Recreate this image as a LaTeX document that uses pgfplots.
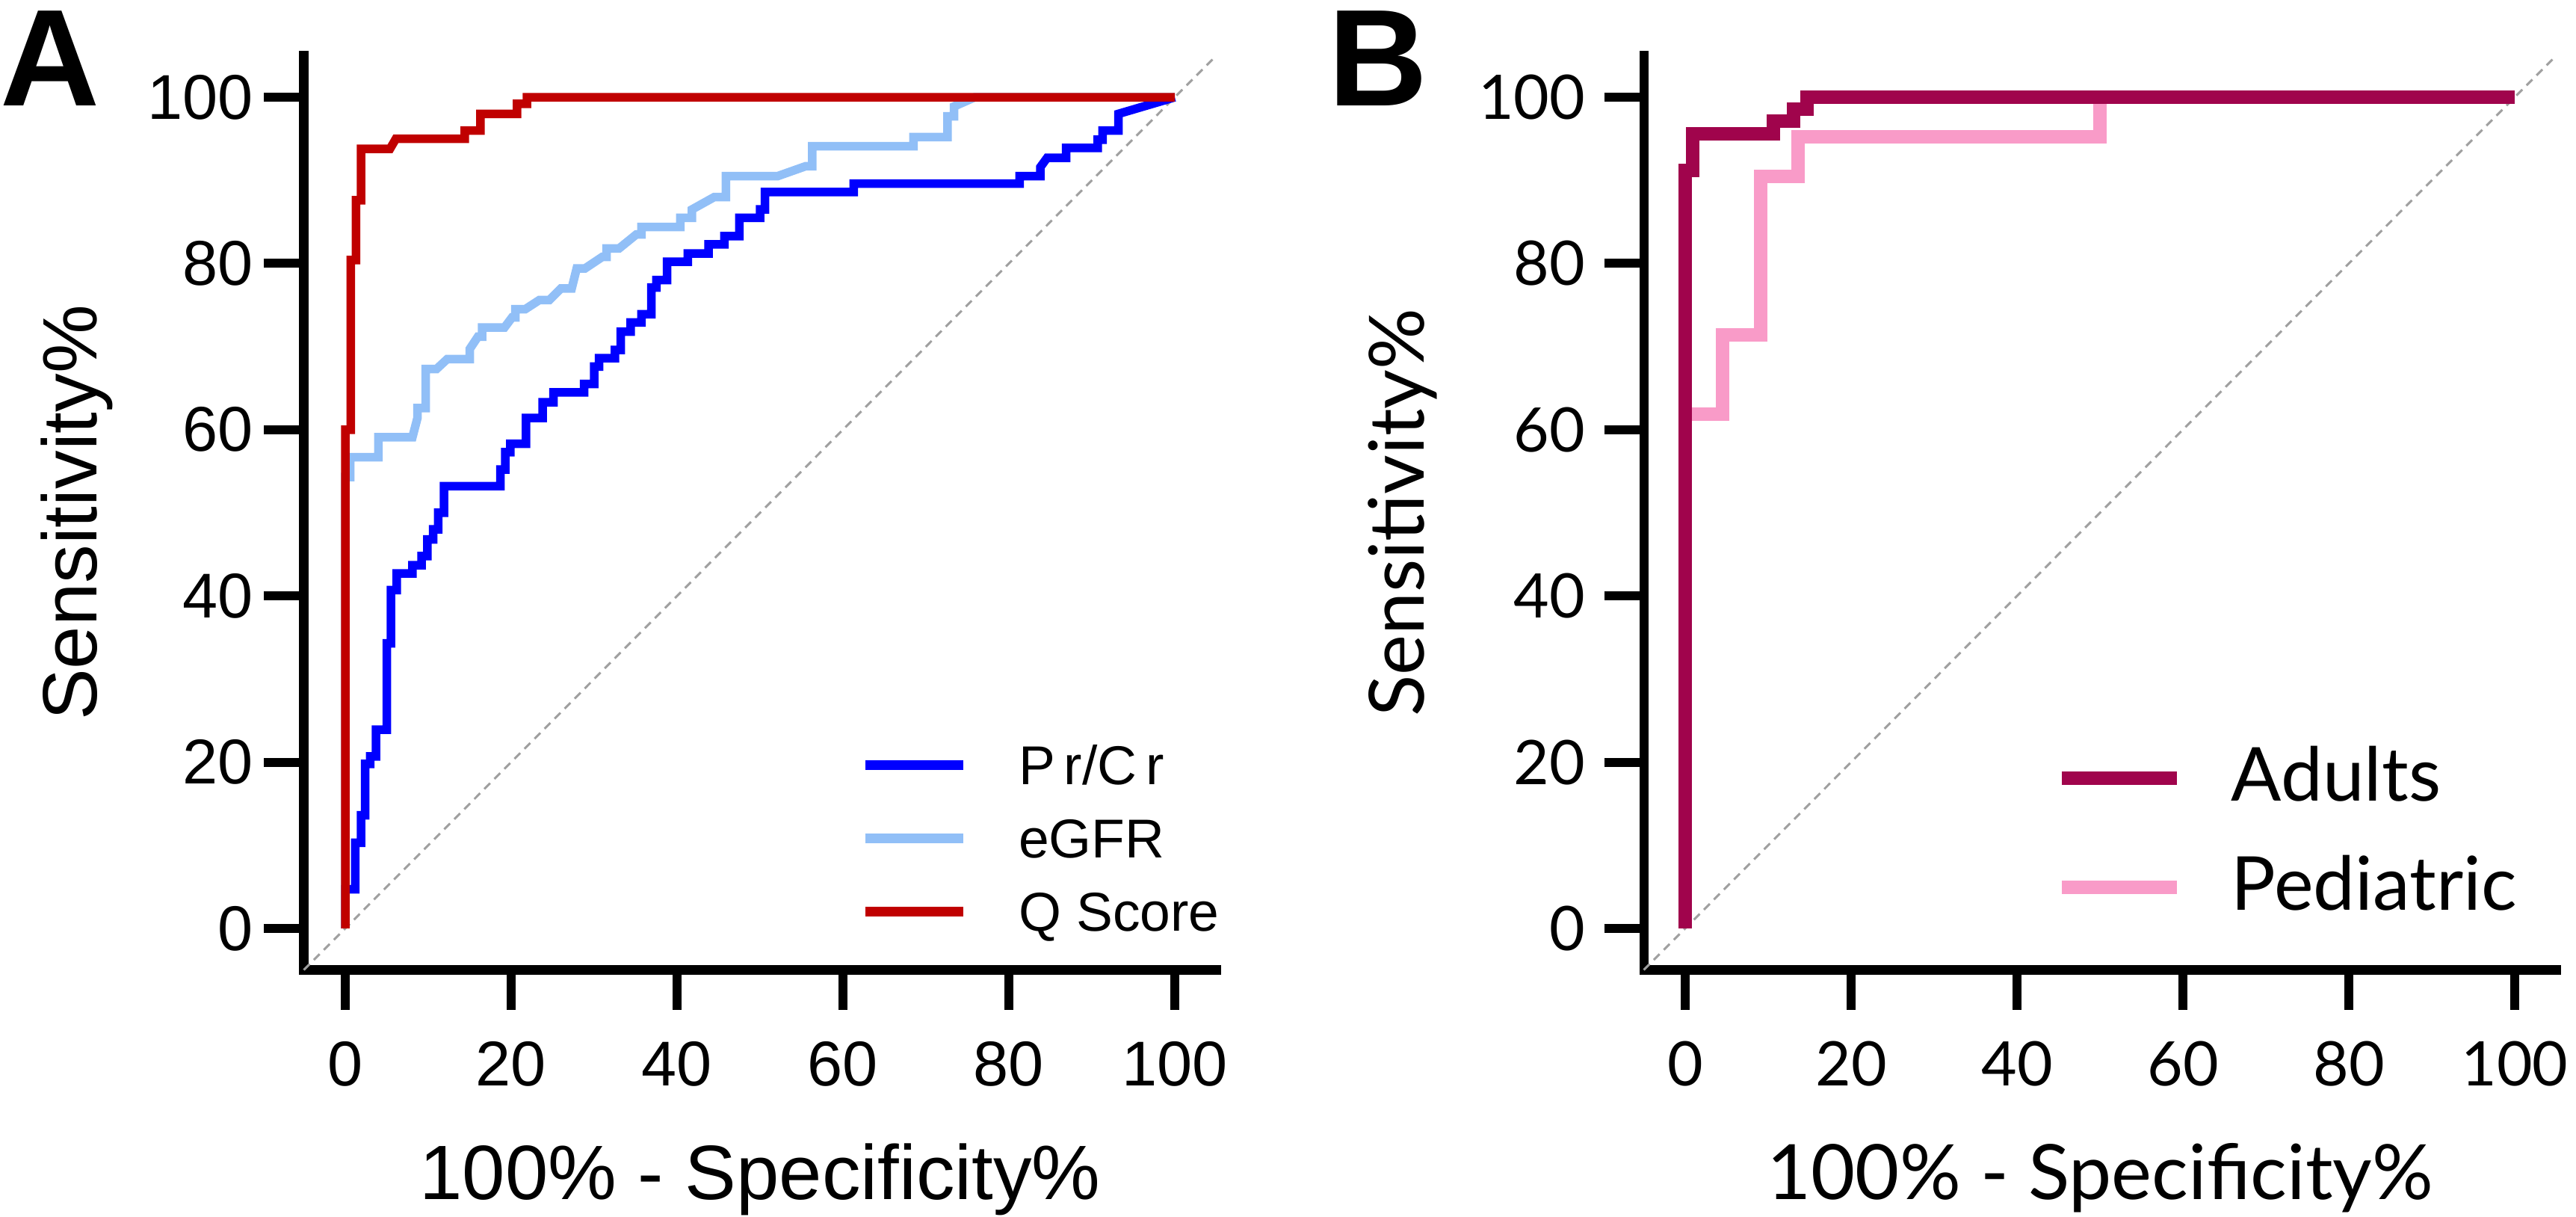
\documentclass[border=0pt]{standalone}
\usepackage{fontspec}
\setmainfont{Liberation Sans}
\newfontfamily\arialf{Liberation Sans}
\newfontfamily\latof{Lato}
\usepackage{pgfplots}
\pgfplotsset{compat=1.18}

\definecolor{prcr}{RGB}{0,0,255}
\definecolor{egfr}{RGB}{145,191,247}
\definecolor{qscore}{RGB}{192,0,0}
\definecolor{adults}{RGB}{160,4,76}
\definecolor{pedi}{RGB}{249,155,200}
\definecolor{diag}{RGB}{160,160,160}

\pgfplotsset{
  rocbase/.style={
    scale only axis, width=244.2bp, height=244.6bp,
    xmin=-5, xmax=105, ymin=-5, ymax=105,
    axis x line*=bottom, axis y line*=left,
    axis line style={line width=2.4bp, black, line cap=rect},
    tick align=outside, major tick length=10.6bp,
    tick style={line width=2.4bp, black},
    xtick={0,20,...,100}, ytick={0,20,...,100},
    /pgf/number format/assume math mode=true,
    xticklabel style={anchor=north, inner sep=0pt, yshift=-8.3bp},
    clip=false,
    legend cell align=left,
  },
  diagline/.style={diag, line width=0.6bp, dash pattern=on 2.2bp off 1.6bp, forget plot},
}

\begin{document}
\begin{tikzpicture}
\useasboundingbox (0,0) rectangle (689.4bp,325.6bp);

% panel A
\begin{axis}[rocbase, at={(81.3bp,66.1bp)}, anchor=south west,
  ticklabel style={font=\arialf\fontsize{17}{17}\selectfont},
  yticklabel style={anchor=east, inner sep=0pt, xshift=-2.7bp},
  xlabel={100\% - Specificity\%}, ylabel={Sensitivity\%},
  label style={font=\arialf\fontsize{20.7}{20.7}\selectfont, inner sep=0pt},
  xlabel style={at={(axis description cs:0.5,-0.2514)}, anchor=base},
  ylabel style={at={(axis description cs:-0.2265,0.5)}, anchor=base},
  legend style={draw=none, fill=none, inner sep=0pt, outer sep=0pt,
    at={(0.61,0.2455)}, anchor=north west,
    font=\arialf\fontsize{14.7}{14.7}\selectfont,
    row sep={19.6bp,between origins}, column sep={41.1bp,between origins},
    nodes={inner sep=0pt, outer sep=0pt, anchor=base west, text height=10.5bp, text depth=0pt}},
  legend image code/.code={\draw[#1, line width=2.5bp, line cap=butt] (0bp,5.3bp) -- (26.2bp,5.3bp);},
]
\addplot[diagline] coordinates {(-5,-5) (105,105)};

\addplot[prcr, line width=2.3bp, line join=miter] coordinates {
(0,0) (0,4.7) (1.2,4.7) (1.2,10.3) (1.9,10.3) (1.9,13.6) (2.4,13.6) (2.4,19.8)
(3.0,19.8) (3.0,20.7) (3.7,20.7) (3.7,23.9) (5.0,23.9) (5.0,34.3) (5.5,34.3)
(5.5,40.7) (6.2,40.7) (6.2,42.7) (8.1,42.7) (8.1,43.7) (9.2,43.7) (9.2,44.8)
(9.9,44.8) (9.9,46.8) (10.6,46.8) (10.6,48.0) (11.2,48.0) (11.2,50.0) (11.9,50.0)
(11.9,53.2) (18.7,53.2) (18.7,55.2) (19.3,55.2) (19.3,57.3) (19.9,57.3) (19.9,58.3)
(21.8,58.3) (21.8,61.4) (23.8,61.4) (23.8,63.3) (25.1,63.3) (25.1,64.5) (28.8,64.5)
(28.8,65.5) (30.0,65.5) (30.0,67.6) (30.6,67.6) (30.6,68.6) (32.5,68.6) (32.5,69.6)
(33.2,69.6) (33.2,71.8) (34.4,71.8) (34.4,72.9) (35.7,72.9) (35.7,73.9) (36.9,73.9)
(36.9,77.1) (37.5,77.1) (37.5,78.0) (38.8,78.0) (38.8,80.2) (41.3,80.2) (41.3,81.2)
(43.8,81.2) (43.8,82.3) (45.7,82.3) (45.7,83.3) (47.5,83.3) (47.5,85.5) (50.0,85.5)
(50.0,86.5) (50.6,86.5) (50.6,88.6) (61.3,88.6) (61.3,89.6) (81.3,89.6) (81.3,90.5)
(83.8,90.5) (83.8,91.6) (84.6,92.7) (86.9,92.7) (86.9,93.9) (90.7,93.9) (90.7,94.9)
(91.3,94.9) (91.3,96.0) (93.2,96.0) (93.2,98.0) (100,100)
};
\addlegendentry{P\kern2.4bp r/C\kern2.4bp r}

\addplot[egfr, line width=2.3bp, line join=miter] coordinates {
(0,0) (0,54.3) (0.6,54.3) (0.6,56.7) (4.0,56.7) (4.0,59.1) (8.1,59.1) (8.7,61.4)
(8.7,62.6) (9.7,62.6) (9.7,67.3) (11.0,67.3) (12.3,68.5) (15.0,68.5) (15.0,69.7)
(16.0,71.2) (16.5,71.2) (16.5,72.3) (19.2,72.3) (20.1,73.5) (20.5,73.5) (20.5,74.5)
(21.7,74.5) (23.4,75.6) (24.6,75.6) (26.0,77.0) (27.3,77.0) (27.9,79.4) (28.9,79.4)
(31.0,80.8) (31.5,80.8) (31.5,81.8) (33.0,81.8) (35.1,83.5) (35.7,83.5) (35.7,84.4)
(40.4,84.4) (40.4,85.5) (41.8,85.5) (41.8,86.5) (44.5,88.0) (45.9,88.0) (45.9,90.5)
(52.1,90.5) (55.5,91.7) (56.3,91.7) (56.3,94.1) (68.5,94.1) (68.5,95.2) (72.6,95.2)
(72.6,97.7) (73.4,97.7) (73.4,98.9) (75.9,100) (100,100)
};
\addlegendentry{eGFR}

\addplot[qscore, line width=2.3bp, line join=miter] coordinates {
(0,0) (0,60.0) (0.66,60.0) (0.66,80.4) (1.3,80.4) (1.3,87.6) (1.9,87.6) (1.9,93.8)
(5.4,93.8) (6.1,95.0) (14.4,95.0) (14.4,96.0) (16.3,96.0) (16.3,98.0) (20.7,98.0)
(20.7,99.2) (21.9,99.2) (21.9,100) (100,100)
};
\addlegendentry{Q Score}
\end{axis}

% panel B
\begin{axis}[rocbase, at={(439.9bp,66.1bp)}, anchor=south west,
  ticklabel style={font=\latof\fontsize{16.5}{16.5}\selectfont},
  yticklabel style={anchor=east, inner sep=0pt, xshift=-4.9bp},
  xlabel={100\% - Specificity\%}, ylabel={Sensitivity\%},
  label style={font=\latof\fontsize{20.5}{20.5}\selectfont, inner sep=0pt},
  xlabel style={at={(axis description cs:0.5,-0.2514)}, anchor=base},
  ylabel style={at={(axis description cs:-0.2412,0.5)}, anchor=base},
  reverse legend,
  legend style={draw=none, fill=none, inner sep=0pt, outer sep=0pt,
    at={(0.451,0.2436)}, anchor=north west,
    font=\latof\fontsize{20}{20}\selectfont,
    row sep={29.2bp,between origins}, column sep={45.4bp,between origins},
    nodes={inner sep=0pt, outer sep=0pt, anchor=base west, text height=14.3bp, text depth=0pt}},
  legend image code/.code={\draw[#1, line width=3.5bp, line cap=butt] (0bp,6bp) -- (30.9bp,6bp);},
]
\addplot[diagline] coordinates {(-5,-5) (105,105)};

\addplot[pedi, line width=3.6bp, line join=miter] coordinates {
(0,0) (0,61.9) (4.5,61.9) (4.5,71.4) (9.1,71.4) (9.1,90.5) (13.6,90.5) (13.6,95.2)
(50,95.2) (50,100) (100,100)
};
\addlegendentry{Pediatric}

\addplot[adults, line width=3.6bp, line join=miter] coordinates {
(0,0) (0,91.2) (0.9,91.2) (0.9,95.6) (10.6,95.6) (10.6,97.1) (13.1,97.1) (13.1,98.6)
(14.7,98.6) (14.7,100) (100,100)
};
\addlegendentry{Adults}
\end{axis}

\node[font=\arialf\bfseries\fontsize{37}{37}\selectfont, anchor=base west, inner sep=0pt] at (0bp,297.2bp) {A};
\node[font=\arialf\bfseries\fontsize{37}{37}\selectfont, anchor=base west, inner sep=0pt] at (355.2bp,297.2bp) {B};
\end{tikzpicture}
\end{document}
